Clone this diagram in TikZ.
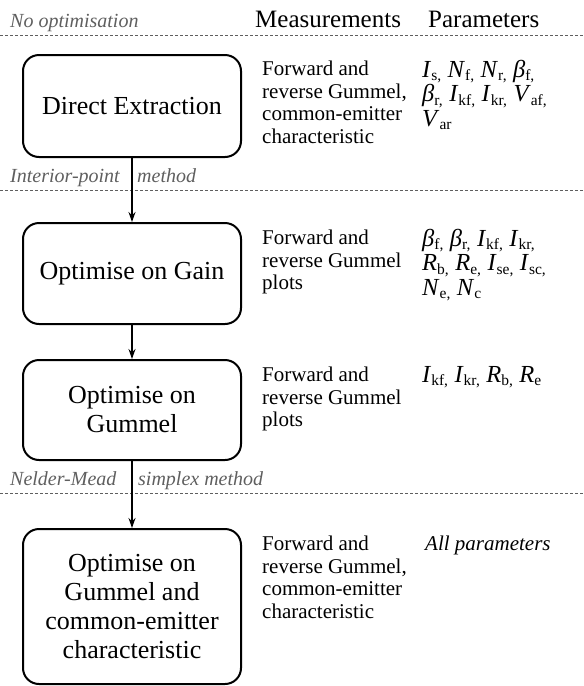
\documentclass[tikz,border=0pt]{standalone}
\usepackage{fontspec}
\setmainfont{Liberation Serif}
\usetikzlibrary{arrows.meta}
\definecolor{labelgray}{RGB}{95,95,95}
\newcommand{\pv}[2]{\textit{#1}\smash{\raisebox{-3.5pt}{\fontsize{15.5}{15.5}\selectfont #2,}}}
\newcommand{\pvl}[2]{\textit{#1}\smash{\raisebox{-3.5pt}{\fontsize{15.5}{15.5}\selectfont #2}}}
\newcommand{\psp}{\hspace{6.5pt}}
\begin{document}
\begin{tikzpicture}[x=1pt,y=-1pt,
  stepbox/.style={draw, line width=2pt, rounded corners=16pt, minimum width=218pt, align=center, font=\fontsize{26}{29}\selectfont, inner sep=0pt},
  meas/.style={anchor=north west, align=left, inner sep=0pt, font=\fontsize{21}{22.5}\selectfont},
  params/.style={anchor=north west, align=left, inner sep=0pt, font=\fontsize{24.5}{24.5}\selectfont},
  head/.style={anchor=base west, inner sep=0pt, font=\fontsize{25}{25}\selectfont},
  method/.style={anchor=base west, inner sep=0pt, text=labelgray, font=\fontsize{20}{20}\selectfont\itshape},
  sep/.style={labelgray, line width=0.9pt, dash pattern=on 3pt off 2pt},
  flow/.style={-{Stealth[length=10pt,width=7pt]}, line width=1.3pt}
]
\useasboundingbox (0,0) rectangle (584,686);

% headers
\node[method] (noopt) at (10,27) {No optimisation};
\node[head] (hmeas) at (255,27) {Measurements};
\node[head] (hpar) at (428,27) {Parameters};
\coordinate (d1a) at (0,35); \coordinate (d1b) at (584,35);
\draw[sep] (d1a) -- (d1b);

% boxes
\node[stepbox, minimum height=102pt] (b1) at (132,106) {Direct Extraction};
\node[stepbox, minimum height=101pt] (b2) at (132,273.5) {Optimise on Gain};
\node[stepbox, minimum height=100pt] (b3) at (132,410) {Optimise on\\Gummel};
\node[stepbox, minimum height=155pt] (b4) at (132,606.5) {Optimise on\\Gummel and\\common-emitter\\characteristic};

% method labels and separators
\node[method] (ip1) at (10,182) {Interior-point};
\node[method] (ip2) at (137,182) {method};
\coordinate (d2a) at (0,190); \coordinate (d2b) at (584,190);
\draw[sep] (d2a) -- (d2b);
\node[method] (nm1) at (10,485) {Nelder-Mead};
\node[method] (nm2) at (138,485) {simplex method};
\coordinate (d3a) at (0,493); \coordinate (d3b) at (584,493);
\draw[sep] (d3a) -- (d3b);

% arrows
\draw[flow] (b1.south) -- (b2.north);
\draw[flow] (b2.south) -- (b3.north);
\draw[flow] (b3.south) -- (b4.north);

% measurements
\node[meas] (m1) at (262,61) {Forward and\\reverse Gummel,\\common-emitter\\characteristic};
\node[meas] (m2) at (262,230) {Forward and\\reverse Gummel\\plots};
\node[meas] (m3) at (262,367) {Forward and\\reverse Gummel\\plots};
\node[meas] (m4) at (262,536) {Forward and\\reverse Gummel,\\common-emitter\\characteristic};

% parameters
\node[params] (p1) at (422,60) {\pv{I}{s}\psp\pv{N}{f}\psp\pv{N}{r}\psp\pv{β}{f}\\
  \pv{β}{r}\psp\pv{I}{kf}\psp\pv{I}{kr}\psp\pv{V}{af}\\
  \pvl{V}{ar}};
\node[params] (p2) at (422,229) {\pv{β}{f}\psp\pv{β}{r}\psp\pv{I}{kf}\psp\pv{I}{kr}\\
  \pv{R}{b}\psp\pv{R}{e}\psp\pv{I}{se}\psp\pv{I}{sc}\\
  \pv{N}{e}\psp\pvl{N}{c}};
\node[params] (p3) at (422,366) {\pv{I}{kf}\psp\pv{I}{kr}\psp\pv{R}{b}\psp\pvl{R}{e}};
\node[meas, font=\fontsize{21}{22.5}\selectfont\itshape] (p4) at (425,536) {All parameters};
\end{tikzpicture}
\end{document}
